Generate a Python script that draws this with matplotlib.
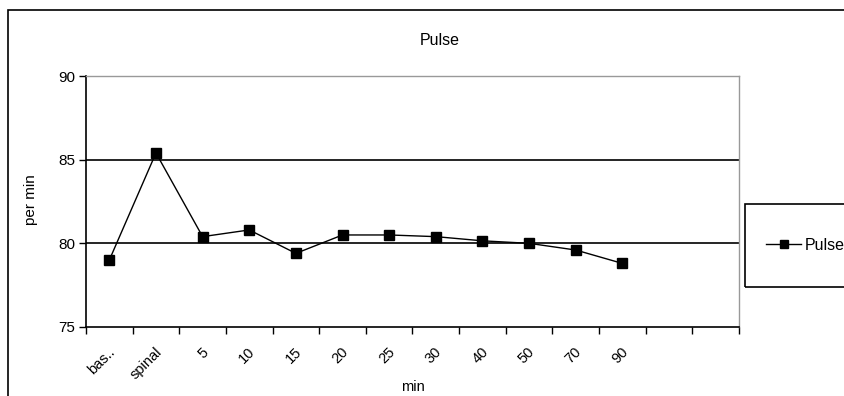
import matplotlib.pyplot as plt
from matplotlib.patches import Rectangle
from matplotlib.transforms import ScaledTranslation
import numpy as np

plt.rcParams['font.family'] = ['Liberation Sans', 'DejaVu Sans']

categories = ['bas..', 'spinal', '5', '10', '15', '20', '25', '30', '40', '50', '70', '90']
pulse = [79.0, 85.4, 80.4, 80.8, 79.4, 80.5, 80.5, 80.4, 80.15, 80.0, 79.6, 78.8]
n_slots = 14

fig = plt.figure(figsize=(8.45, 3.96), dpi=100)
ax = fig.add_axes([86 / 845, 1 - 327 / 396, (739 - 86) / 845, (327 - 76) / 396])

x = np.arange(len(pulse))
ax.plot(x, pulse, color='black', linewidth=1, marker='s', markersize=6.8,
        markerfacecolor='black', markeredgecolor='black', label='Pulse', zorder=3)

ax.set_xlim(-0.5, n_slots - 0.5)
ax.set_ylim(75, 90)
ax.set_yticks([75, 80, 85, 90])
for yv in [80, 85]:
    ax.axhline(yv, color='black', linewidth=1.2, zorder=1)

ax.set_xticks(x)
ax.set_xticklabels(categories, rotation=45, ha='right', rotation_mode='anchor', fontsize=10.5)
ax.tick_params(axis='x', which='major', length=0, pad=13)
shift = ScaledTranslation(-1 / 72, 0, fig.dpi_scale_trans)
for lab in ax.get_xticklabels():
    lab.set_transform(lab.get_transform() + shift)
ax.set_xticks(np.arange(-0.5, n_slots), minor=True)
ax.tick_params(axis='x', which='minor', length=5, width=1, direction='out')
ax.tick_params(axis='y', length=5, width=1, direction='out', labelsize=11, pad=3)

for side in ['left', 'bottom']:
    ax.spines[side].set_color('black')
    ax.spines[side].set_linewidth(1.2)
for side in ['top', 'right']:
    ax.spines[side].set_color('#999999')
    ax.spines[side].set_linewidth(1)

fig.text(440 / 845, 1 - 45 / 396, 'Pulse', ha='center', va='baseline', fontsize=11.5)
ax.set_xlabel('min', fontsize=10.5)
ax.xaxis.set_label_coords((413 - 86) / 653, -(380 - 327) / 251)
ax.set_ylabel('per min', fontsize=11)
ax.yaxis.set_label_coords((38 - 86) / 653, 0.506)

# outer chart frame and legend box
fig.patches.append(Rectangle((8 / 845, -0.2), 1.2, 1.2 - 10 / 396, transform=fig.transFigure,
                             fill=False, edgecolor='black', linewidth=1.2))
fig.patches.append(Rectangle((745 / 845, 1 - 287 / 396), 0.2, 83 / 396, transform=fig.transFigure,
                             fill=False, edgecolor='black', linewidth=1.2))
fig.legend(loc='center left', bbox_to_anchor=(758 / 845, 1 - 245.5 / 396), frameon=False,
           fontsize=11.5, handlelength=2.2, handletextpad=0.25, borderpad=0, markerscale=0.8)

fig.savefig('out.png', dpi=100)
